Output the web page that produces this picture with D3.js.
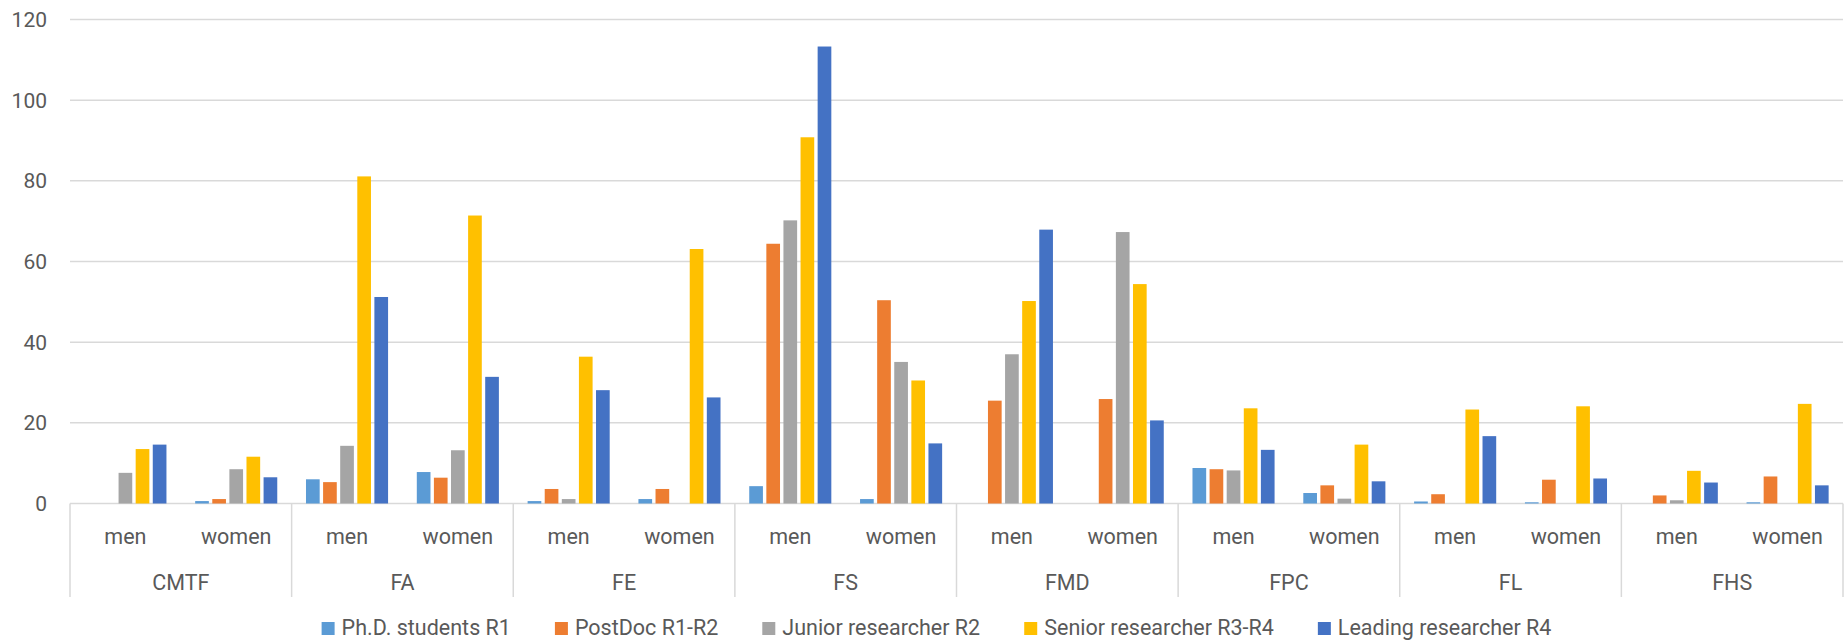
<!DOCTYPE html>
<html>
<head>
<meta charset="utf-8">
<script src="https://cdn.jsdelivr.net/npm/d3@7"></script>
<style>
  body { margin: 0; background: #fff; }
  text { font-family: Roboto, "Open Sans", sans-serif; fill: #595959; }
</style>
</head>
<body>
<div id="chart"></div>
<script>
const width = 1846;
const height = 642;

// categories
const faculties = ["CMTF", "FA", "FE", "FS", "FMD", "FPC", "FL", "FHS"];
const genders = ["men", "women"];
const seriesNames = ["Ph.D. students R1", "PostDoc R1-R2", "Junior researcher R2",
  "Senior researcher R3-R4", "Leading researcher R4"];
const colors = ["#5B9BD5", "#ED7D31", "#A5A5A5", "#FFC000", "#4472C4"];
const yTicks = [0, 20, 40, 60, 80, 100, 120];

// values per series, order: faculty x (men, women)
const phd      = [0, 0.6,   6.0, 7.8,   0.6, 1.1,   4.3, 1.1,     0, 0,       8.8, 2.6,   0.5, 0.3,   0, 0.3];
const postdoc  = [0, 1.1,   5.3, 6.4,   3.6, 3.6,   64.4, 50.4,   25.5, 25.9, 8.5, 4.5,   2.3, 5.9,   2.0, 6.7];
const junior   = [7.6, 8.5, 14.3, 13.2, 1.1, 0,     70.2, 35.1,   37.0, 67.3, 8.2, 1.2,   0, 0,       0.8, 0];
const senior   = [13.5, 11.6, 81.1, 71.4, 36.4, 63.1, 90.8, 30.5, 50.2, 54.4, 23.6, 14.6, 23.3, 24.1, 8.1, 24.7];
const leading  = [14.6, 6.5, 51.2, 31.4, 28.1, 26.3, 113.3, 14.9, 67.9, 20.6, 13.3, 5.5, 16.7, 6.2, 5.2, 4.5];
const seriesValues = [phd, postdoc, junior, senior, leading];

const margin = { left: 70, right: 3, top: 19.5, zero: 503.5 };

const svg = d3.select("#chart").append("svg")
  .attr("width", width)
  .attr("height", height);

const groups = [];
faculties.forEach(f => genders.forEach(g => groups.push(f + "|" + g)));

const x0 = d3.scaleBand().domain(groups).range([margin.left, width - margin.right]);
const xf = d3.scaleBand().domain(faculties).range([margin.left, width - margin.right]);
const x1 = d3.scaleBand().domain(seriesNames).range([0, x0.bandwidth()])
  .paddingInner(0.2).paddingOuter(0.84);
const y = d3.scaleLinear().domain([0, 120]).range([margin.zero, margin.top]);

// gridlines
svg.append("g").selectAll("line")
  .data(yTicks)
  .enter().append("line")
  .attr("x1", margin.left).attr("x2", width - margin.right)
  .attr("y1", d => y(d)).attr("y2", d => y(d))
  .attr("stroke", "#d9d9d9").attr("stroke-width", 1.5);

// y labels
svg.append("g").selectAll("text")
  .data(yTicks)
  .enter().append("text")
  .attr("x", 47)
  .attr("y", d => y(d))
  .attr("dy", "0.36em")
  .attr("text-anchor", "end")
  .style("font-size", "21px")
  .text(d => d);

// bars
const rows = groups.map((g, i) => ({ key: g, vals: seriesValues.map((s, j) => ({ name: seriesNames[j], v: s[i], c: colors[j] })) }));
svg.append("g").selectAll("g")
  .data(rows)
  .enter().append("g")
  .attr("transform", d => `translate(${x0(d.key)},0)`)
  .selectAll("rect")
  .data(d => d.vals)
  .enter().append("rect")
  .attr("x", d => x1(d.name))
  .attr("width", x1.bandwidth())
  .attr("y", d => y(d.v))
  .attr("height", d => y(0) - y(d.v))
  .attr("fill", d => d.c);

// category dividers
const bounds = faculties.map(f => xf(f)).concat([width - margin.right]);
svg.append("g").selectAll("line")
  .data(bounds)
  .enter().append("line")
  .attr("x1", d => d).attr("x2", d => d)
  .attr("y1", margin.zero).attr("y2", 597)
  .attr("stroke", "#d9d9d9").attr("stroke-width", 1.5);

// gender labels
svg.append("g").selectAll("text")
  .data(groups)
  .enter().append("text")
  .attr("x", d => x0(d) + x0.bandwidth() / 2)
  .attr("y", 536)
  .attr("dy", "0.36em")
  .attr("text-anchor", "middle")
  .style("font-size", "21.5px")
  .text(d => d.split("|")[1]);

// faculty labels
svg.append("g").selectAll("text")
  .data(faculties)
  .enter().append("text")
  .attr("x", d => xf(d) + xf.bandwidth() / 2)
  .attr("y", 582)
  .attr("dy", "0.36em")
  .attr("text-anchor", "middle")
  .style("font-size", "21.5px")
  .text(d => d);

// legend
const legendY = 627;
const legend = svg.append("g");
const items = legend.selectAll("g")
  .data(seriesNames)
  .enter().append("g");
items.append("rect")
  .attr("width", 13).attr("height", 13)
  .attr("y", legendY - 5)
  .attr("fill", (d, i) => colors[i]);
items.append("text")
  .attr("x", 20)
  .attr("y", legendY)
  .attr("dy", "0.36em")
  .style("font-size", "21.5px")
  .text(d => d);

const widths = [];
items.each(function () {
  const w = d3.select(this).select("text").node().getComputedTextLength();
  widths.push(20 + w);
});
const total = d3.sum(widths) + 44 * (widths.length - 1);
let cx = 936.5 - total / 2;
items.attr("transform", (d, i) => {
  const t = `translate(${cx},0)`;
  cx += widths[i] + 44;
  return t;
});
</script>
</body>
</html>
